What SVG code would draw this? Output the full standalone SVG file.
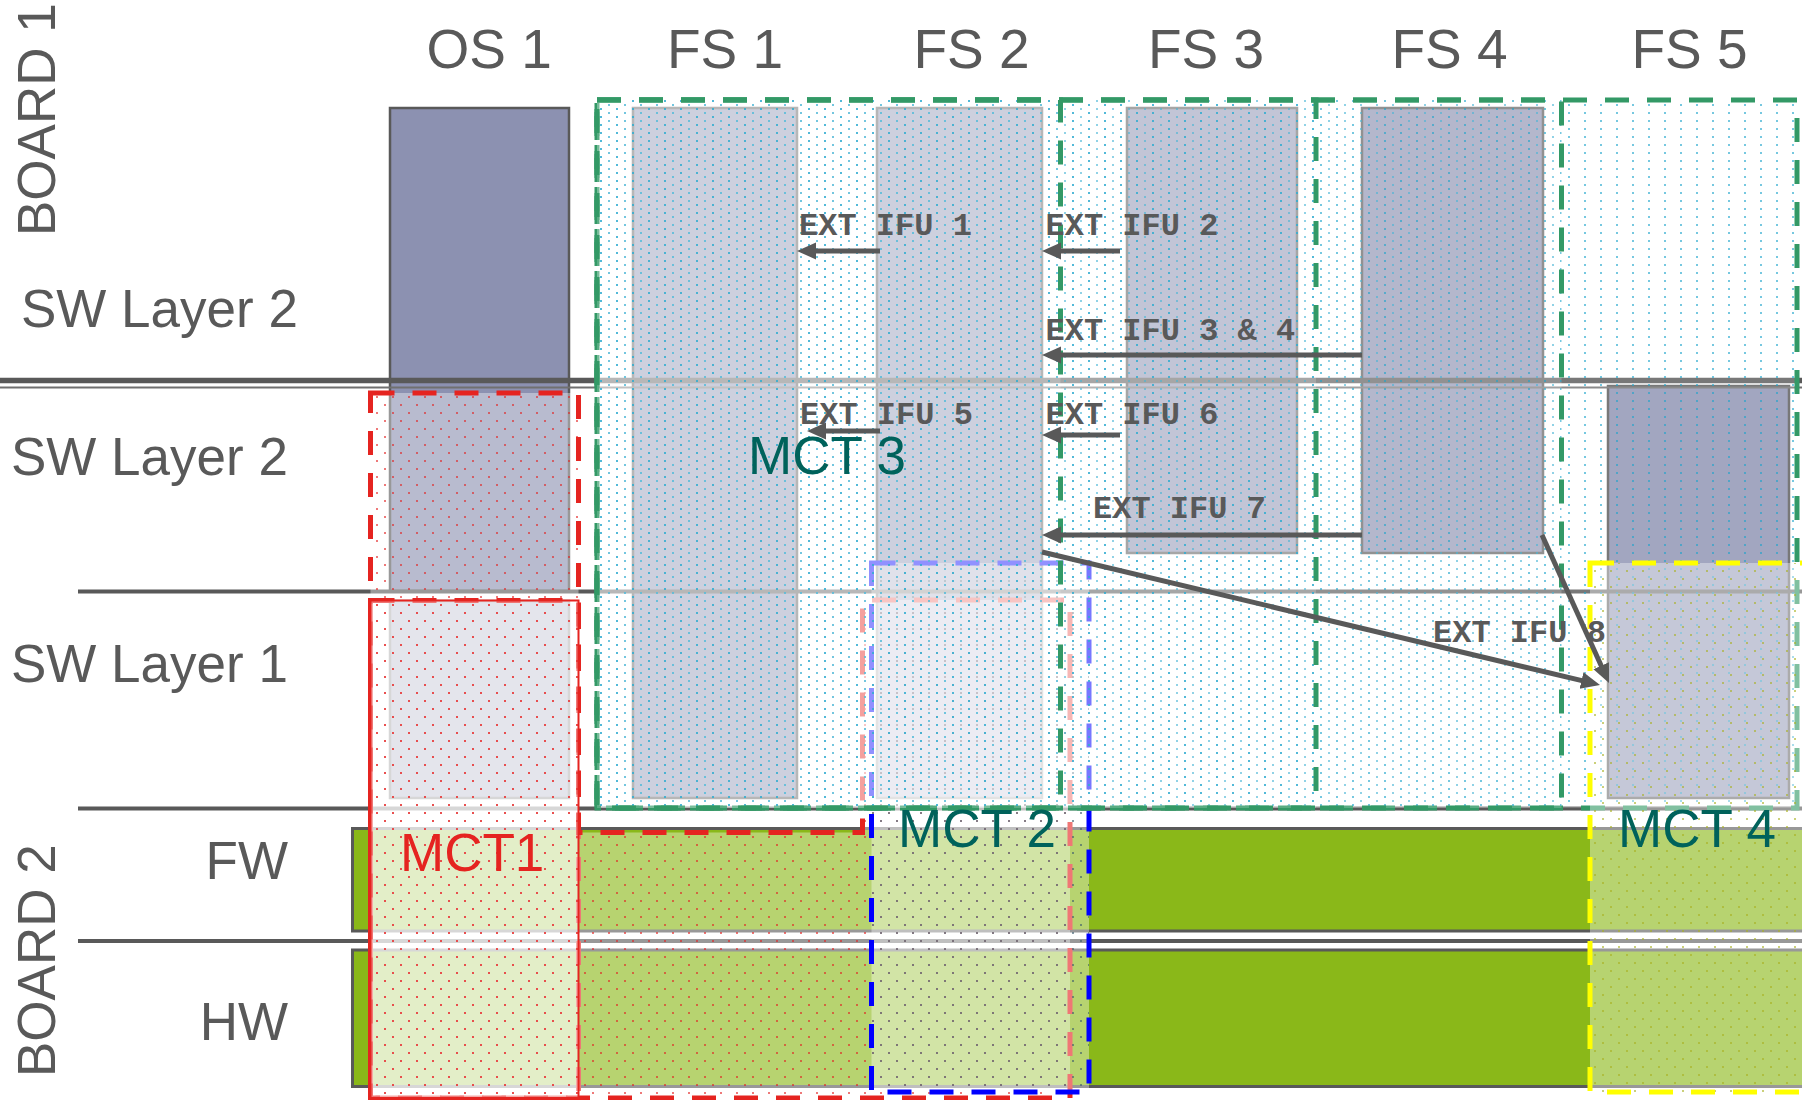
<svg xmlns="http://www.w3.org/2000/svg" width="1802" height="1100" viewBox="0 0 1802 1100">
<style>
.t{font-family:"Liberation Sans",Arial,sans-serif;fill:#595959}
.hdr{font-size:55px}
.row{font-size:53px}
.ifu{font-family:"Liberation Mono","Courier New",monospace;font-weight:bold;font-size:32px;fill:#595959}
.mct{font-family:"Liberation Sans",Arial,sans-serif;font-size:53px;fill:#00625b}
.box{fill:#8c91b1;stroke:#595959;stroke-width:2.5}
.bar{fill:#8ab819;stroke:#595959;stroke-width:3}
.sep{stroke:#595959;stroke-width:4;fill:none}
.dR{stroke:#e52420;stroke-width:5;stroke-dasharray:24 18;fill:url(#pRed)}
.dB{stroke:#0000ff;stroke-width:5;stroke-dasharray:24 18;fill:url(#pBlue)}
.dY{stroke:#ffff00;stroke-width:5;stroke-dasharray:24 18;fill:url(#pYel)}
.dG{stroke:#339966;stroke-width:5;stroke-dasharray:24 18}
.arr{stroke:#595959;stroke-width:5;fill:none;marker-end:url(#ah)}
</style>
<defs>
<pattern id="pRed" width="16" height="16" patternUnits="userSpaceOnUse" patternTransform="translate(0,4)">
<rect width="16" height="16" fill="#fff" fill-opacity="0.38"/>
<rect x="0" y="0" width="2" height="2" fill="#e31f1f" fill-opacity="0.6"/>
<rect x="8" y="8" width="2" height="2" fill="#e31f1f" fill-opacity="0.6"/>
</pattern>
<pattern id="pBlue" width="16" height="16" patternUnits="userSpaceOnUse" patternTransform="translate(0,4)">
<rect width="16" height="16" fill="#fff" fill-opacity="0.38"/>
<rect x="0" y="0" width="2" height="2" fill="#3a5a6a" fill-opacity="0.6"/>
<rect x="8" y="8" width="2" height="2" fill="#3a5a6a" fill-opacity="0.6"/>
</pattern>
<pattern id="pYel" width="16" height="16" patternUnits="userSpaceOnUse" patternTransform="translate(2,2)">
<rect width="16" height="16" fill="#fff" fill-opacity="0.38"/>
<rect x="0" y="0" width="2" height="2" fill="#a8b020" fill-opacity="0.6"/>
<rect x="8" y="8" width="2" height="2" fill="#a8b020" fill-opacity="0.6"/>
</pattern>
<pattern id="pCyA" width="16" height="8" patternUnits="userSpaceOnUse">
<rect width="16" height="8" fill="#fff" fill-opacity="0.19"/>
<rect x="0" y="0" width="2" height="2" fill="#1aa3cc" fill-opacity="0.6"/>
</pattern>
<pattern id="pCyB" width="16" height="8" patternUnits="userSpaceOnUse" patternTransform="translate(8,4)">
<rect width="16" height="8" fill="#fff" fill-opacity="0.19"/>
<rect x="0" y="0" width="2" height="2" fill="#1aa3cc" fill-opacity="0.6"/>
</pattern>
<marker id="ah" markerUnits="userSpaceOnUse" viewBox="0 0 19 20" markerWidth="19" markerHeight="20" refX="8" refY="10" orient="auto">
<path d="M0,1.5 L19,10 L0,18.5 Z" fill="#595959"/>
</marker>
</defs>

<g id="OS1">
<rect class="box" x="390" y="108" width="179" height="483"/>
<rect class="box" x="390" y="601" width="179" height="197"/>
</g>
<g id="FS1"><rect class="box" x="633" y="108" width="164" height="690"/></g>
<g id="FS2"><rect class="box" x="877" y="108" width="165" height="690"/></g>
<g id="FS3"><rect class="box" x="1127" y="108" width="170" height="445"/></g>
<g id="FS4"><rect class="box" x="1362" y="108" width="181" height="445"/></g>
<g id="FS5"><rect class="box" x="1608" y="386" width="181" height="412"/></g>

<g id="separators">
<line x1="0" y1="380.5" x2="1802" y2="380.5" stroke="#595959" stroke-width="5.6"/>
<line x1="0" y1="387.5" x2="1802" y2="387.5" stroke="#707070" stroke-width="2"/>
<line class="sep" x1="78" y1="591.5" x2="1802" y2="591.5"/>
<line class="sep" x1="78" y1="808.5" x2="1802" y2="808.5"/>
<line class="sep" x1="78" y1="941" x2="1802" y2="941"/>
</g>

<g id="FW"><rect class="bar" x="352.5" y="828.5" width="1500" height="102.5"/></g>
<g id="HW"><rect class="bar" x="352.5" y="950" width="1500" height="136.5"/></g>

<g id="MCT1">
<rect class="dR" x="370.5" y="393" width="208" height="705"/>
<path class="dR" d="M370.5,600.5 H578.5 V832.5 H862.5 V600 H1070 V1098 H370.5 Z"/>
<rect x="370.5" y="600.5" width="208" height="497.5" fill="url(#pRed)" stroke="#e52420" stroke-width="2"/>
</g>

<g id="MCT2">
<rect class="dB" x="871.5" y="563" width="217.5" height="529"/>
</g>

<g id="MCT3">
<rect class="dG" fill="url(#pCyA)" x="597" y="100" width="1200" height="708"/>
<rect class="dG" fill="url(#pCyB)" x="597" y="100" width="964.5" height="708"/>
<rect class="dG" fill="url(#pCyA)" x="597" y="100" width="719" height="708"/>
<rect class="dG" fill="url(#pCyB)" x="597" y="100" width="463.5" height="708"/>
</g>

<g id="MCT4">
<rect class="dY" x="1590" y="563" width="260" height="529"/>
</g>

<g id="connectors">
<path class="arr" d="M880,251 H808"/>
<path class="arr" d="M1120,251 H1053"/>
<path class="arr" d="M1362,355 H1053"/>
<path class="arr" d="M880,431 H818"/>
<path class="arr" d="M1120,435 H1053"/>
<path class="arr" d="M1362,535 H1053"/>
<path class="arr" d="M1042,552 L1589.3,682.4"/>
<path class="arr" d="M1542,535 L1604.5,673"/>
</g>

<g id="labels">
<text class="t hdr" x="426.5" y="68">OS 1</text>
<text class="t hdr" x="667" y="68">FS 1</text>
<text class="t hdr" x="913.5" y="68">FS 2</text>
<text class="t hdr" x="1148" y="68">FS 3</text>
<text class="t hdr" x="1391.5" y="68">FS 4</text>
<text class="t hdr" x="1631.5" y="68">FS 5</text>
<text class="t row" transform="translate(55,236) rotate(-90)">BOARD 1</text>
<text class="t row" transform="translate(55,1077) rotate(-90)">BOARD 2</text>
<text class="t row" x="21" y="327">SW Layer 2</text>
<text class="t row" x="11" y="475">SW Layer 2</text>
<text class="t row" x="11" y="682">SW Layer 1</text>
<text class="t row" x="288" y="879" text-anchor="end">FW</text>
<text class="t row" x="288" y="1040" text-anchor="end">HW</text>
<text class="ifu" x="799" y="235">EXT IFU 1</text>
<text class="ifu" x="1045.5" y="235">EXT IFU 2</text>
<text class="ifu" x="1045.5" y="340">EXT IFU 3 &amp; 4</text>
<text class="ifu" x="800" y="424">EXT IFU 5</text>
<text class="ifu" x="1045.5" y="424">EXT IFU 6</text>
<text class="ifu" x="1093" y="518">EXT IFU 7</text>
<text class="ifu" x="1433" y="642">EXT IFU 8</text>
<text class="mct" x="748" y="474">MCT 3</text>
<text class="mct" x="898" y="847">MCT 2</text>
<text class="mct" x="1618" y="847">MCT 4</text>
<text class="mct" x="400" y="871" style="fill:#e52420">MCT1</text>
</g>
</svg>
